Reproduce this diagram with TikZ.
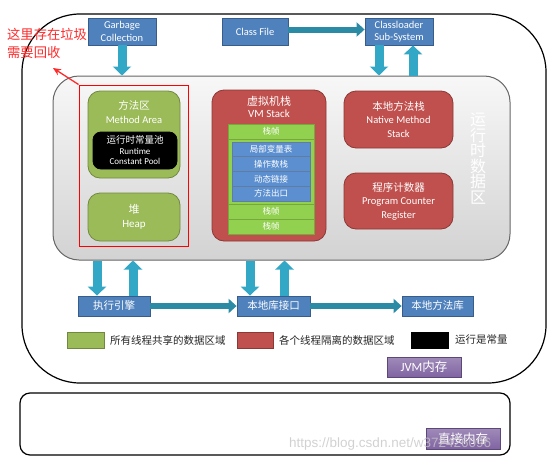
\documentclass[tikz,border=0pt]{standalone}
\usepackage{fontspec}
\setmainfont{Carlito}
\newfontfamily\cjk{Noto Sans CJK SC}
\newfontfamily\wmfont{Liberation Sans}
\usetikzlibrary{arrows.meta}
\definecolor{grn}{HTML}{9BBB59}
\definecolor{grnD}{HTML}{71893F}
\definecolor{rd}{HTML}{C0504D}
\definecolor{rdD}{HTML}{8C3836}
\definecolor{bl}{HTML}{4F81BD}
\definecolor{blD}{HTML}{385D8A}
\definecolor{cy}{HTML}{33A8C6}
\definecolor{cyD}{HTML}{2B8BA5}
\definecolor{pu}{HTML}{8064A2}
\definecolor{puD}{HTML}{5C4776}
\definecolor{frm}{HTML}{92D050}
\definecolor{frmD}{HTML}{77A83C}
\definecolor{row}{HTML}{5B8FD0}
\definecolor{annot}{HTML}{FF2A2A}
\begin{document}
\begin{tikzpicture}[x=1pt,y=-1pt,
  box/.style={draw, line width=0.8pt, inner sep=0pt, align=center},
  greenbox/.style={box, draw=grnD, fill=grn, rounded corners=12pt, text=white},
  redbox/.style={box, draw=rdD, fill=rd, rounded corners=12pt, text=white},
  bluebox/.style={box, draw=blD, fill=bl, text=white},
  purplebox/.style={box, draw=puD, top color=pu!75, bottom color=pu, text=white},
  framebox/.style={box, draw=frmD, fill=frm, text=white, minimum width=86pt, minimum height=15pt, font=\cjk\fontsize{8.5}{9}\selectfont},
  rowbox/.style={box, draw=blD!80, fill=row, text=white, minimum width=78pt, minimum height=14.75pt, font=\cjk\fontsize{8.5}{9}\selectfont},
  lbl/.style={inner sep=0pt, align=center},
  vblock/.style={line width=9pt, draw=cy, -{Triangle[width=18pt,length=9pt]}},
  hblock/.style={line width=6pt, draw=cyD, -{Triangle[width=14pt,length=8pt]}},
  legsq/.style={draw, line width=0.8pt, minimum width=37pt, minimum height=16pt, inner sep=0pt},
  legtxt/.style={anchor=west, inner sep=0pt, font=\cjk\fontsize{10.5}{11}\selectfont, text=black!85}
]
\useasboundingbox (0,0) rectangle (554,463);

% outer frames
\node[draw=black, line width=1.2pt, rounded corners=58pt, minimum width=524pt, minimum height=369pt] (jvm) at (284,198.5) {};
\node[draw=black, line width=1.2pt, rounded corners=10pt, minimum width=490pt, minimum height=62pt] (direct) at (265,424) {};

% runtime data area
\node[draw=gray!80!black, line width=1pt, rounded corners=26pt, top color=gray!6, bottom color=gray!35, minimum width=457pt, minimum height=184pt] (rda) at (281.5,168) {};
\node[lbl, text=white, font=\cjk\fontsize{16}{15.5}\selectfont] (rdalbl) at (478,158.5) {运\\行\\时\\数\\据\\区};

% method area & heap
\node[greenbox, minimum width=92pt, minimum height=87pt] (ma) at (134,134.5) {};
\node[lbl, text=white, font=\fontsize{10.5}{13.5}\selectfont] (matxt) at (134,112) {{\cjk 方法区}\\Method Area};
\node[box, draw=black, fill=black, rounded corners=8pt, text=white, minimum width=84pt, minimum height=37pt, font=\fontsize{9}{10.5}\selectfont] (rcp) at (135,150.5) {{\cjk\fontsize{9.5}{10.5}\selectfont 运行时常量池}\\Runtime\\Constant Pool};
\node[greenbox, minimum width=92pt, minimum height=48pt, font=\fontsize{11}{14}\selectfont] (heap) at (134,217) {{\cjk 堆}\\Heap};
\node[draw=red, line width=1pt, minimum width=109pt, minimum height=161pt] (gcarea) at (133.5,165.5) {};

% VM stack
\node[redbox, minimum width=114pt, minimum height=151pt] (vms) at (269,165.5) {};
\node[lbl, text=white, font=\fontsize{11}{12.5}\selectfont] (vmstxt) at (269,107) {{\cjk 虚拟机栈}\\VM Stack};
\node[framebox] (f1) at (271,131.5) {栈帧};
\node[framebox, minimum height=65pt] (f2) at (271,171.5) {};
\node[rowbox] (r1) at (271,149.4) {局部变量表};
\node[rowbox] (r2) at (271,164.1) {操作数栈};
\node[rowbox] (r3) at (271,178.9) {动态链接};
\node[rowbox] (r4) at (271,193.6) {方法出口};
\node[framebox] (f3) at (271,211.5) {栈帧};
\node[framebox] (f4) at (271,226.5) {栈帧};

% native method stack, PC register
\node[redbox, minimum width=109pt, minimum height=57pt, font=\fontsize{10.5}{13.5}\selectfont] (nms) at (398.5,119.5) {{\cjk 本地方法栈}\\Native Method\\Stack};
\node[redbox, minimum width=109pt, minimum height=56pt, font=\fontsize{10.5}{13.5}\selectfont] (pc) at (398.5,201) {{\cjk 程序计数器}\\Program Counter\\Register};

% top boxes
\node[bluebox, minimum width=68pt, minimum height=27pt, font=\fontsize{10.5}{12.5}\selectfont] (gc) at (122,31.5) {Garbage\\Collection};
\node[bluebox, minimum width=66pt, minimum height=27pt, font=\fontsize{10.5}{12.5}\selectfont] (cf) at (255,31.5) {Class File};
\node[bluebox, minimum width=68pt, minimum height=27pt, font=\fontsize{10.5}{12.5}\selectfont] (cl) at (399,31.5) {Classloader\\Sub-System};

% bottom boxes
\node[bluebox, minimum width=72pt, minimum height=20pt, font=\cjk\fontsize{10.5}{11}\selectfont] (exe) at (114,306) {执行引擎};
\node[bluebox, minimum width=73pt, minimum height=20pt, font=\cjk\fontsize{10.5}{11}\selectfont] (nli) at (273.5,306) {本地库接口};
\node[bluebox, minimum width=71pt, minimum height=20pt, font=\cjk\fontsize{10.5}{11}\selectfont] (nlib) at (437.5,306) {本地方法库};

% arrows top
\draw[vblock] (gc.south) -- (gc.south |- rda.north);
\draw[hblock] ([yshift=2pt]cf.east) -- ([yshift=2pt]cl.west);
\draw[vblock] ([xshift=-20pt]cl.south) -- ([xshift=-20pt]cl.south |- rda.north);
\draw[vblock] ([xshift=14pt]cl.south |- rda.north) -- ([xshift=14pt]cl.south);

% arrows bottom
\draw[vblock] ([xshift=-17pt]exe.north |- rda.south) -- ([xshift=-17pt]exe.north);
\draw[vblock] ([xshift=19pt]exe.north) -- ([xshift=19pt]exe.north |- rda.south);
\draw[vblock] ([xshift=-23.5pt]nli.north |- rda.south) -- ([xshift=-23.5pt]nli.north);
\draw[vblock] ([xshift=11pt]nli.north) -- ([xshift=11pt]nli.north |- rda.south);
\draw[hblock] (exe.east) -- (nli.west);
\draw[hblock] (nli.east) -- (nlib.west);

% legend
\node[legsq, draw=grnD, fill=grn] (lg1) at (85.5,340) {};
\node[legtxt] (lt1) at (110,340) {所有线程共享的数据区域};
\node[legsq, draw=rdD, fill=rd, minimum width=36pt] (lg2) at (255,340) {};
\node[legtxt] (lt2) at (279,340) {各个线程隔离的数据区域};
\node[legsq, draw=black, fill=black] (lg3) at (429.5,340) {};
\node[legtxt] (lt3) at (455,340) {运行是常量};

% purple tags
\node[purplebox, minimum width=74pt, minimum height=20pt, font=\fontsize{12.5}{13}\selectfont] (jvmtag) at (424,367) {JVM{\cjk 内存}};
\node[purplebox, minimum width=74pt, minimum height=21pt, font=\cjk\fontsize{12.5}{13}\selectfont] (dirtag) at (463,438.5) {直接内存};

% annotation
\node[anchor=north west, inner sep=0pt, align=left, text=annot, font=\cjk\fontsize{13.3}{18.5}\selectfont] (note) at (7,28) {这里存在垃圾\\需要回收};
\coordinate (notetip) at (53,68);
\draw[annot, line width=1.3pt, -{Stealth[length=8pt,width=7pt]}] (gcarea.north west) -- (notetip);

% watermark
\node[anchor=west, inner sep=0pt, text=gray!45, opacity=0.8, font=\wmfont\fontsize{13.5}{15}\selectfont] (wm) at (289,444) {https://blog.csdn.net/w372426096};
\end{tikzpicture}
\end{document}
